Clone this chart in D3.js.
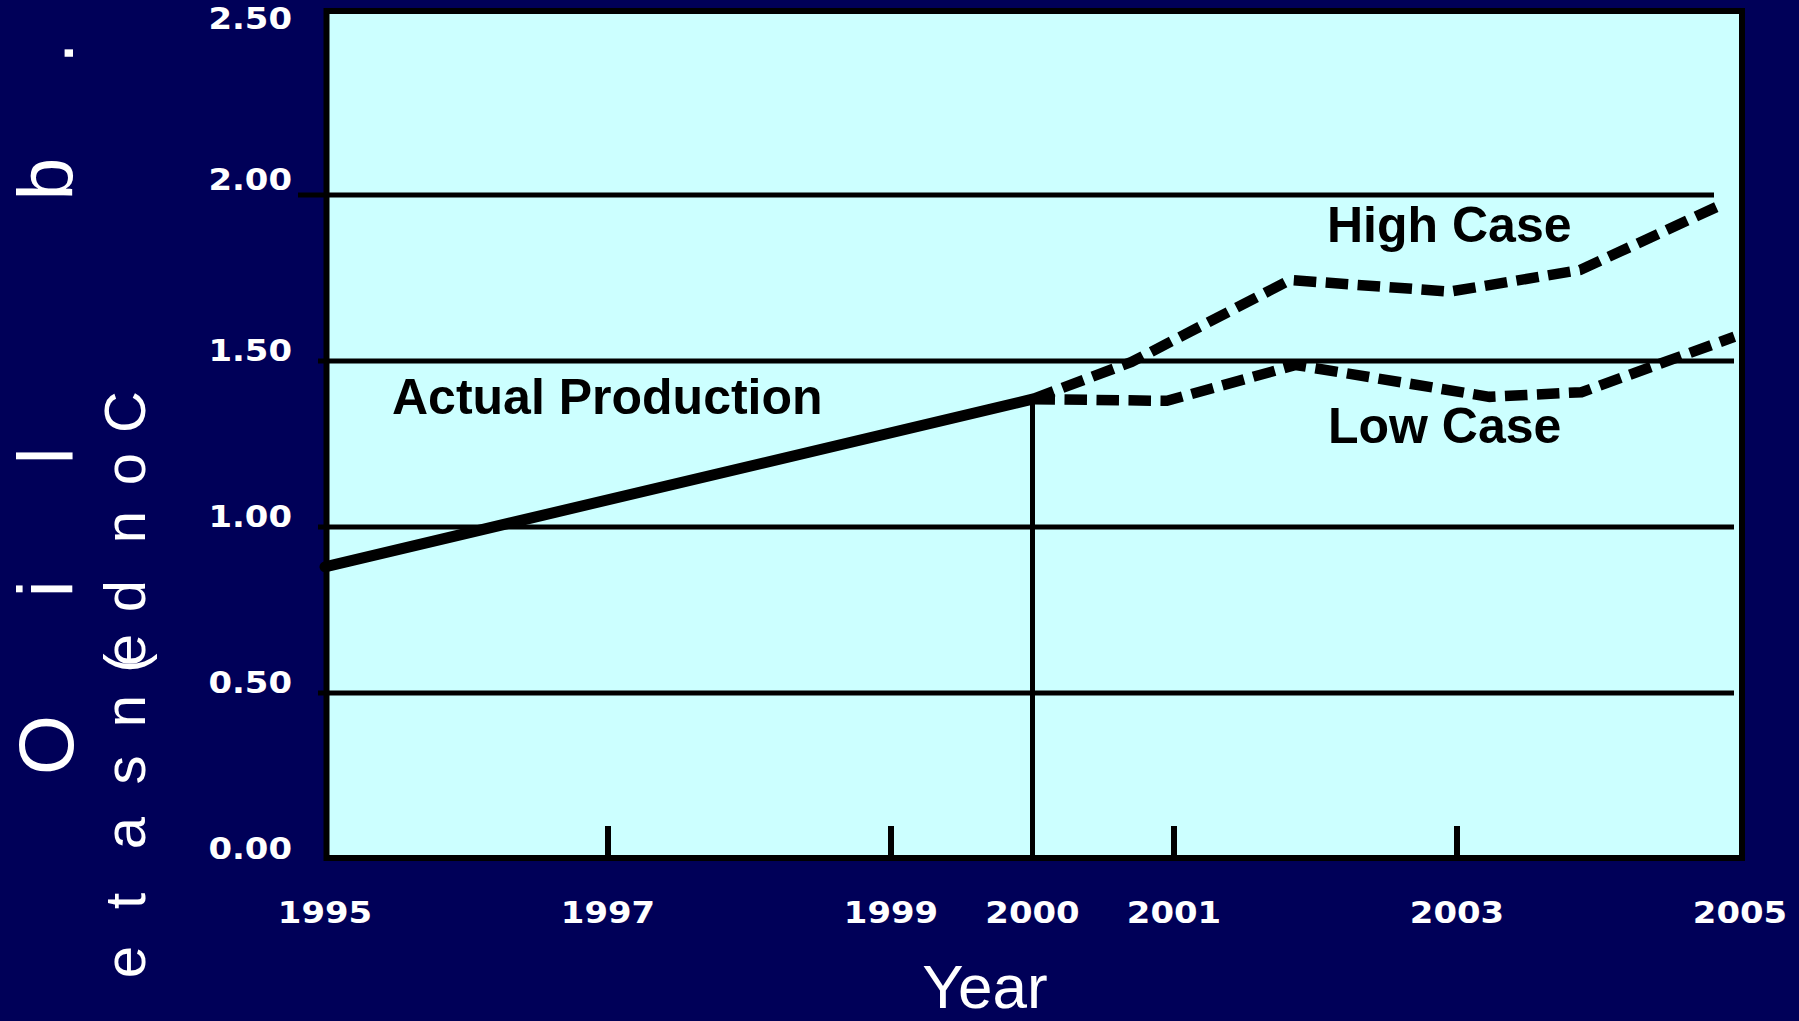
<!DOCTYPE html>
<html>
<head>
<meta charset="utf-8">
<script src="https://cdn.jsdelivr.net/npm/d3@7"></script>
<style>
  html, body { margin: 0; padding: 0; background: #000058; }
  svg { display: block; }
</style>
</head>
<body>
<svg id="chart" width="1799" height="1021"></svg>
<script>
// ---- data ----
const yearLabels = [1995, 1997, 1999, 2000, 2001, 2003, 2005];
const innerTickYears = [1997, 1999, 2001, 2003];
const yTickValues = [0, 0.5, 1.0, 1.5, 2.0, 2.5];
const gridValues = [0.5, 1.0, 1.5, 2.0];

const actualYears = [1995, 2000];
const actualValues = [0.88, 1.385];

const highYears = [2000, 2000.70, 2001.82, 2002.95, 2003.87, 2004.84];
const highValues = [1.385, 1.497, 1.744, 1.709, 1.774, 1.965];

const lowYears = [2000, 2000.95, 2001.86, 2003.23, 2003.88, 2004.96];
const lowValues = [1.385, 1.38, 1.488, 1.392, 1.406, 1.573];

const splitYear = 2000;

// ---- layout ----
const W = 1799, H = 1021;
const frame = { left: 326.5, top: 11, right: 1742, bottom: 858 };
const navy = "#000058", plotFill = "#CCFFFF";

const svg = d3.select("#chart");
svg.append("rect").attr("width", W).attr("height", H).attr("fill", navy);

const x = d3.scaleLinear().domain([1995, 2005]).range([325, 1740]);
const y = d3.scaleLinear().domain([0, 2.5]).range([859, 29]);

// plot frame
svg.append("rect")
  .attr("x", frame.left).attr("y", frame.top)
  .attr("width", frame.right - frame.left).attr("height", frame.bottom - frame.top)
  .attr("fill", plotFill).attr("stroke", "#000").attr("stroke-width", 6);

// gridlines
svg.append("g").selectAll("line").data(gridValues).join("line")
  .attr("x1", d => d === 2.0 ? 298 : 318)
  .attr("x2", d => d === 2.0 ? 1714 : 1734)
  .attr("y1", d => y(d)).attr("y2", d => y(d))
  .attr("stroke", "#000").attr("stroke-width", 5);

// inner tick marks on the x axis
svg.append("g").selectAll("line").data(innerTickYears).join("line")
  .attr("x1", d => x(d)).attr("x2", d => x(d))
  .attr("y1", frame.bottom - 3).attr("y2", frame.bottom - 32)
  .attr("stroke", "#000").attr("stroke-width", 6);

// vertical line at 2000
svg.append("line")
  .attr("x1", x(splitYear)).attr("x2", x(splitYear))
  .attr("y1", frame.bottom).attr("y2", y(actualValues[1]) + 4)
  .attr("stroke", "#000").attr("stroke-width", 5);

const line = d3.line().x(d => x(d[0])).y(d => y(d[1])).curve(d3.curveLinear);

svg.append("path")
  .attr("d", line(d3.zip(actualYears, actualValues)))
  .attr("fill", "none").attr("stroke", "#000").attr("stroke-width", 11)
  .attr("stroke-linecap", "round");

[ [highYears, highValues], [lowYears, lowValues] ].forEach(([ys, vs]) => {
  svg.append("path")
    .attr("d", line(d3.zip(ys, vs)))
    .attr("fill", "none").attr("stroke", "#000").attr("stroke-width", 10.5)
    .attr("stroke-dasharray", "22.5 9.5");
});

// y tick labels
svg.append("g").selectAll("text").data(yTickValues).join("text")
  .attr("transform", d => `translate(292,${y(d) + (d === 2.0 ? -5 : 0)}) scale(1.13,1)`)
  .attr("text-anchor", "end")
  .attr("font-family", "DejaVu Sans").attr("font-weight", "bold")
  .attr("font-size", 30).attr("fill", "#fff")
  .text(d => d3.format(".2f")(d));

// x tick labels
const xAxis = d3.axisBottom(x).tickValues(yearLabels).tickSize(0).tickFormat(d3.format("d"));
const gx = svg.append("g").attr("transform", "translate(0,923)").call(xAxis);
gx.select(".domain").remove();
gx.selectAll("text")
  .attr("y", 0).attr("dy", null)
  .attr("transform", "scale(1.13,1)")
  .attr("font-family", "DejaVu Sans").attr("font-weight", "bold")
  .attr("font-size", 30).attr("fill", "#fff");
gx.selectAll(".tick").attr("transform", d => `translate(${x(d)},0)`);

// series labels
const lbl = (t, lx, ly) => svg.append("text").attr("x", lx).attr("y", ly)
  .attr("font-family", "Liberation Sans, Arial, sans-serif").attr("font-weight", "bold")
  .attr("font-size", 50).attr("fill", "#000").text(t);
lbl("Actual Production", 392, 414);
lbl("High Case", 1327, 242);
lbl("Low Case", 1328, 443);

// axis titles
svg.append("text").attr("x", 985).attr("y", 1008).attr("text-anchor", "middle")
  .attr("font-family", "Liberation Sans, Arial, sans-serif").attr("font-size", 62)
  .attr("fill", "#fff").text("Year");

// left vertical titles (rotated, per-character placement)
const oilChars = "Oil b.";
const oilPos = [745, 589, 456, 320, 179, 53];
svg.append("text")
  .attr("transform", "translate(73,0) rotate(-90)")
  .attr("x", oilPos.map(v => -v).join(" ")).attr("y", 0)
  .attr("text-anchor", "middle")
  .attr("font-family", "Liberation Sans, Arial, sans-serif").attr("font-size", 77)
  .attr("fill", "#fff").text(oilChars);

const condChars = "etasn(ednoC";
const condPos = [962, 901, 833, 770, 711, 663, 650, 596, 527, 469, 412];
svg.append("text")
  .attr("transform", "translate(145,0) rotate(-90)")
  .attr("x", condPos.map(v => -v).join(" ")).attr("y", 0)
  .attr("text-anchor", "middle")
  .attr("font-family", "Liberation Sans, Arial, sans-serif").attr("font-size", 58)
  .attr("fill", "#fff").text(condChars);
</script>
</body>
</html>
